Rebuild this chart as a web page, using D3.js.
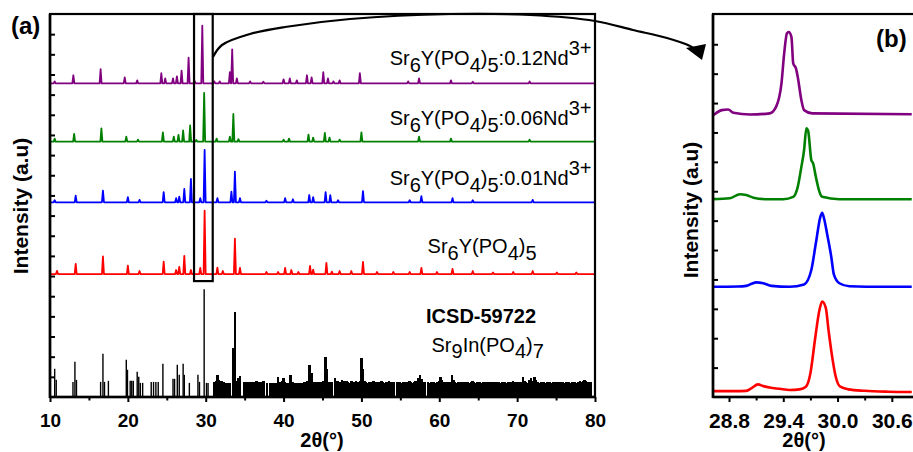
<!DOCTYPE html>
<html>
<head>
<meta charset="utf-8">
<script src="https://cdn.jsdelivr.net/npm/d3@7"></script>
<style>
  body { margin: 0; background: #fff; }
  svg { display: block; font-family: "Liberation Sans", Arial, sans-serif; }
</style>
</head>
<body>
<svg id="chart" width="913" height="452"></svg>
<script>
// ---------- data: panel (a) full-range XRD patterns ----------
// [2θ, peak intensity above the pattern's own baseline]
const peaksHost = [[10.9,16],[13.3,50],[16.8,87],[20.0,42],[21.5,15],[24.6,62],[26.2,20],[26.6,35],[27.25,90],[28.1,20],[29.3,30],[29.86,315],[31.5,32],[32.2,15],[33.75,175],[34.4,30],[37.8,10],[39.3,10],[40.2,30],[41.0,20],[41.9,10],[43.4,40],[43.8,22],[45.5,55],[46.2,12],[47.2,15],[48.7,15],[50.2,60],[52.0,10],[54.1,10],[56.2,10],[57.7,30],[59.7,10],[61.7,25],[64.3,15],[66.9,8],[69.5,10],[72.0,15],[75.1,8],[77.6,8]];
const peaksNd001 = [[10.6,10],[13.3,33],[16.8,58],[20.0,25],[21.5,12],[24.6,50],[26.2,20],[26.6,28],[27.25,66],[28.1,116],[29.3,20],[29.86,260],[31.5,20],[33.3,53],[33.75,152],[34.4,20],[37.8,8],[40.2,20],[41.2,15],[43.3,36],[43.8,25],[45.4,50],[46.0,35],[47.0,10],[50.2,55],[56.2,10],[57.7,30],[61.7,20],[64.3,10],[72.0,12]];
const peaksNd006 = [[10.6,15],[13.1,38],[16.6,66],[19.8,25],[21.3,10],[24.5,46],[25.9,25],[26.5,33],[27.1,55],[28.0,80],[28.8,8],[29.8,242],[31.4,15],[33.1,25],[33.55,137],[34.2,12],[40.0,10],[40.7,15],[43.2,35],[43.8,20],[45.3,43],[45.9,20],[47.2,10],[50.0,46],[57.4,25],[61.5,15],[71.6,10]];
const peaksNd012 = [[10.6,10],[13.0,40],[16.5,70],[19.6,30],[21.2,15],[24.3,50],[24.8,25],[25.8,25],[26.3,35],[26.9,63],[27.8,127],[28.6,10],[29.56,286],[31.1,10],[31.8,10],[33.1,55],[33.4,169],[34.0,25],[35.7,10],[37.4,8],[40.0,20],[40.8,25],[41.7,15],[43.0,40],[43.6,30],[45.1,55],[45.7,25],[46.4,10],[47.2,15],[49.8,50],[56.0,10],[57.4,25],[61.5,15],[64.3,8],[71.6,10]];
// vertical stacking offsets of the four measured patterns (a.u.)
const offsetsA = [610, 966, 1267, 1556];

// reference card ICSD-59722 reflections [2θ, intensity]
const icsdSticks = [[10.6,140],[10.8,85],[12.95,75],[13.2,175],[13.4,85],[16.5,75],[16.8,215],[17.0,75],[17.5,80],[19.8,185],[19.95,135],[20.3,80],[20.5,80],[20.7,80],[21.2,125],[21.4,100],[21.6,70],[21.9,70],[23.0,75],[23.3,75],[23.6,75],[23.9,75],[24.5,165],[25.8,90],[26.0,90],[26.35,160],[26.6,110],[27.1,165],[27.25,110],[27.9,70],[29.0,110],[29.2,75],[29.8,535],[30.1,70],[30.3,70],[31.1,75],[31.3,80],[31.5,110],[31.7,85],[31.9,80],[32.1,80],[32.3,75],[32.6,70],[32.9,70],[33.1,70],[33.6,245],[33.75,420],[34.0,80],[34.2,95],[34.4,105],[35.0,75],[35.3,75],[35.6,75],[35.9,75],[36.2,75],[36.5,80],[36.8,75],[37.1,75],[37.4,80],[37.9,70],[38.3,70],[38.7,70],[39.1,70],[39.3,100],[39.6,75],[39.85,80],[40.0,95],[40.2,75],[40.5,70],[40.9,110],[41.2,75],[41.5,70],[41.8,70],[42.1,70],[42.4,70],[42.7,75],[43.0,80],[43.3,160],[43.5,110],[43.65,120],[43.9,75],[44.2,75],[44.5,75],[44.8,75],[45.1,80],[45.4,200],[45.6,140],[45.9,75],[46.2,75],[46.6,95],[46.9,80],
[47.1,75],[47.3,72],[47.5,85],[47.7,80],[47.9,74],[48.1,80],[48.3,76],[48.5,70],[48.7,80],[48.9,75],[49.1,72],[49.3,80],[49.5,76],[49.7,70],[49.85,80],[50.0,195],[50.15,140],[50.4,80],[50.6,76],[50.8,70],[51.0,75],[51.2,72],[51.4,76],[51.55,80],[51.95,75],[52.15,72],[52.35,76],[52.55,80],[52.75,75],[52.95,70],[53.15,76],[53.35,74],[53.55,80],[53.75,75],[53.95,70],[54.15,75],[54.55,72],[54.75,76],[54.95,75],[55.15,70],[55.35,76],[55.55,72],[55.75,75],[55.95,76],[56.15,80],[56.35,75],[56.55,70],[56.75,76],[56.95,80],[57.15,75],[57.35,95],[57.55,110],[57.75,90],[57.95,75],[58.15,72],[58.55,75],[58.75,70],[58.95,76],[59.15,72],[59.35,75],[59.55,70],[59.75,76],[59.95,80],[60.15,100],[60.35,85],[60.55,75],[60.75,70],[60.95,76],[61.15,72],[61.35,75],[61.65,110],[61.85,85],[62.05,76],[62.25,70],[62.45,75],[62.65,72],[62.85,76],[63.05,70],[63.25,75],[63.45,72],[63.65,76],[63.85,70],[64.05,75],[64.25,80],[64.45,76],[64.65,70],[64.85,75],[65.05,72],[65.25,76],[65.45,70],[65.65,75],[65.85,72],[66.05,76],[66.25,70],[66.45,75],[66.65,72],[66.85,76],[67.05,70],[67.25,75],[67.45,72],[67.65,76],[67.85,70],[68.05,75],[68.25,72],[68.45,76],[68.65,70],[68.85,75],[69.05,72],[69.25,76],[69.45,80],[69.65,75],[69.85,70],[70.05,76],[70.25,72],[70.45,75],[70.75,100],[70.95,80],[71.15,75],[71.35,70],[71.55,85],[71.75,95],[71.95,80],[72.25,100],[72.45,85],[72.65,75],[72.85,70],[73.05,76],[73.25,72],[73.45,75],[73.65,70],[73.85,76],[74.05,72],[74.25,75],[74.45,70],[74.65,76],[74.85,72],[75.05,75],[75.25,70],[75.45,76],[75.65,72],[75.85,75],[76.05,70],[76.25,76],[76.45,72],[76.65,75],[76.85,70],[77.05,76],[77.25,72],[77.45,75],[77.65,70],[77.85,76],[78.05,80],[78.25,75],[78.45,80],[78.65,85],[78.85,80],[79.05,76],[79.25,72],[79.45,75]];

// axis ticks, panel (a)
const xTicksA = [10, 20, 30, 40, 50, 60, 70, 80];
const xMinorA = [15, 25, 35, 45, 55, 65, 75];
const yTicksA = [100,200,300,400,500,600,700,800,900,1000,1100,1200,1300,1400,1500,1600,1700,1800];

// labels of the stacked patterns (_ = subscript digit, ^ = superscript)
const labelsA = ["Sr_6Y(PO_4)_5", "Sr_6Y(PO_4)_5:0.01Nd^3+", "Sr_6Y(PO_4)_5:0.06Nd^3+", "Sr_6Y(PO_4)_5:0.12Nd^3+"];
const icsdLabel = ["ICSD-59722", "Sr_9In(PO_4)_7"];

// ---------- data: panel (b) enlarged main reflection, already offset ----------
const zoomHost = [[28.62,20],[28.85,20],[28.99,21],[29.05,30],[29.12,43],[29.18,37],[29.25,32],[29.36,28],[29.47,24],[29.58,26],[29.65,35],[29.70,81],[29.75,194],[29.80,296],[29.83,325],[29.87,303],[29.90,228],[29.94,138],[29.98,69],[30.03,35],[30.12,26],[30.30,21],[30.56,18],[30.82,17]];
const zoomNd001 = [[28.62,375],[28.90,376],[28.99,378],[29.05,385],[29.10,390],[29.18,387],[29.27,378],[29.47,375],[29.63,383],[29.71,432],[29.76,523],[29.81,613],[29.83,627],[29.85,608],[29.89,546],[29.93,478],[29.96,416],[30.02,387],[30.13,377],[30.50,375],[30.82,375]];
const zoomNd006 = [[28.62,673],[28.81,676],[28.92,690],[28.99,687],[29.07,678],[29.20,673],[29.40,673],[29.51,681],[29.56,715],[29.60,783],[29.63,840],[29.655,914],[29.675,905],[29.71,806],[29.73,795],[29.76,749],[29.80,698],[29.83,681],[30.02,673],[30.82,673]];
const zoomNd012 = [[28.63,959],[28.72,976],[28.79,978],[28.85,967],[29.03,961],[29.25,965],[29.32,987],[29.38,1067],[29.41,1169],[29.44,1237],[29.46,1242],[29.49,1225],[29.51,1135],[29.54,1118],[29.56,1089],[29.60,1010],[29.63,976],[29.72,965],[30.82,962]];

const xTicksB = [28.8, 29.4, 30.0, 30.6];
const xMinorB = [29.1, 29.7, 30.3];
const yTicksB = [100,200,300,400,500,600,700,800,900,1000,1100,1200];

const colors = ["#ff0000", "#0000ff", "#008000", "#800080"];

// ---------- layout ----------
const svg = d3.select("#chart");
const A = { left: 50, right: 595, top: 14, bottom: 397 };
const B = { left: 713, right: 928, top: 14, bottom: 397 };

const xA = d3.scaleLinear().domain([10, 80]).range([A.left, A.right]);
const yA = d3.scaleLinear().domain([0, 1900]).range([A.bottom, A.top]);
const xB = d3.scaleLinear().domain([28.623, 31.0]).range([B.left, B.right]);
const yB = d3.scaleLinear().domain([0, 1303]).range([B.bottom, B.top]);

// formula text with sub/superscripts written as tspans
function chem(textSel, str, subShift, supShift) {
  const parts = str.split(/(_\d|\^\S+$)/).filter(s => s.length);
  let cur = 0;
  parts.forEach(p => {
    let shift = 0, t = p;
    if (p[0] === "_") { shift = subShift; t = p.slice(1); }
    else if (p[0] === "^") { shift = supShift; t = p.slice(1); }
    textSel.append("tspan").attr("dy", shift - cur).text(t);
    cur = shift;
  });
}

// ---------- panel (a) ----------
const gA = svg.append("g");

// stick reference pattern (the crowded high-angle part is drawn heavier so it reads as a solid band)
gA.append("g").selectAll("line").data(icsdSticks).join("line")
  .attr("x1", d => xA(d[0])).attr("x2", d => xA(d[0]))
  .attr("y1", yA(0)).attr("y2", d => yA(d[1]))
  .attr("stroke", "#000").attr("stroke-width", d => d[0] < 30.5 ? 1.4 : 2.5)
  .attr("shape-rendering", d => d[0] < 30.5 ? "auto" : "crispEdges");

// measured patterns drawn as narrow peak profiles on a flat baseline
const halfWidth = 0.13;
function profile(peaks) {
  const pts = [[10, 0]];
  peaks.slice().sort((a, b) => a[0] - b[0]).forEach(p => {
    pts.push([p[0] - halfWidth, 0], [p[0], p[1]], [p[0] + halfWidth, 0]);
  });
  pts.push([80, 0]);
  return pts;
}
const patternsA = [peaksHost, peaksNd001, peaksNd006, peaksNd012];
patternsA.forEach((peaks, i) => {
  const line = d3.line().x(d => xA(d[0])).y(d => yA(d[1] + offsetsA[i]));
  gA.append("path").attr("d", line(profile(peaks)))
    .attr("fill", "none").attr("stroke", colors[i])
    .attr("stroke-width", 1.8).attr("stroke-linejoin", "round");
});

// frame
gA.append("rect").attr("x", A.left).attr("y", A.top)
  .attr("width", A.right - A.left).attr("height", A.bottom - A.top)
  .attr("fill", "none").attr("stroke", "#000").attr("stroke-width", 2.2);
gA.append("line").attr("x1", A.left).attr("x2", A.left).attr("y1", A.top).attr("y2", A.bottom + 1)
  .attr("stroke", "#000").attr("stroke-width", 2.6);
gA.append("line").attr("x1", A.left).attr("x2", A.right).attr("y1", A.bottom).attr("y2", A.bottom)
  .attr("stroke", "#000").attr("stroke-width", 2.6);

// x axis
const axA = gA.append("g").attr("transform", `translate(0,${A.bottom})`)
  .call(d3.axisBottom(xA).tickValues(xTicksA).tickSize(5).tickFormat(d3.format("d")));
axA.select(".domain").remove();
axA.selectAll("line").attr("stroke-width", 2);
axA.selectAll("text").attr("dy", null).attr("y", 30)
  .attr("font-size", 19).attr("font-weight", "bold").attr("fill", "#000")
  .attr("font-family", "'Liberation Sans', Arial, sans-serif");
const axAm = gA.append("g").attr("transform", `translate(0,${A.bottom})`)
  .call(d3.axisBottom(xA).tickValues(xMinorA).tickSize(3.5).tickFormat(""));
axAm.select(".domain").remove();
axAm.selectAll("line").attr("stroke-width", 2);

// y ticks (inward, unlabelled)
const ayA = gA.append("g").attr("transform", `translate(${A.left},0)`)
  .call(d3.axisLeft(yA).tickValues(yTicksA).tickSize(-5).tickFormat(""));
ayA.select(".domain").remove();
ayA.selectAll("line").attr("stroke-width", 2);

// labels
const labelYA = [714, 1052, 1349, 1647];
labelsA.forEach((s, i) => {
  const t = gA.append("text").attr("font-size", 20).attr("fill", "#000");
  if (i === 0) t.attr("x", xA(58.5)).attr("text-anchor", "start");
  else t.attr("x", xA(79.55)).attr("text-anchor", "end");
  t.attr("y", yA(labelYA[i]));
  chem(t, s, 7, -10);
});
gA.append("text").attr("x", xA(58.3)).attr("y", yA(366))
  .attr("font-size", 20).attr("font-weight", "bold").attr("fill", "#000").text(icsdLabel[0]);
const tI = gA.append("text").attr("x", xA(59.0)).attr("y", yA(225))
  .attr("font-size", 20).attr("fill", "#000");
chem(tI, icsdLabel[1], 6, -10);

gA.append("text").attr("x", 322).attr("y", 447).attr("text-anchor", "middle")
  .attr("font-size", 20).attr("font-weight", "bold").text("2θ(°)");
gA.append("text").attr("transform", "translate(28,206) rotate(-90)").attr("text-anchor", "middle")
  .attr("font-size", 21).attr("font-weight", "bold").text("Intensity (a.u)");
gA.append("text").attr("x", 11).attr("y", 34)
  .attr("font-size", 24).attr("font-weight", "bold").text("(a)");

// selection box around the strongest reflection
gA.append("rect").attr("x", xA(28.5)).attr("y", yA(1900))
  .attr("width", xA(30.9) - xA(28.5)).attr("height", yA(575) - yA(1900))
  .attr("fill", "none").attr("stroke", "#000").attr("stroke-width", 2.2);

// ---------- panel (b) ----------
const gB = svg.append("g");
svg.append("defs").append("clipPath").attr("id", "clipB")
  .append("rect").attr("x", B.left).attr("y", B.top)
  .attr("width", B.right - B.left).attr("height", B.bottom - B.top);

const lineB = d3.line().x(d => xB(d[0])).y(d => yB(d[1])).curve(d3.curveMonotoneX);
[zoomHost, zoomNd001, zoomNd006, zoomNd012].forEach((pts, i) => {
  gB.append("path").attr("d", lineB(pts)).attr("clip-path", "url(#clipB)")
    .attr("fill", "none").attr("stroke", colors[i])
    .attr("stroke-width", 2.6).attr("stroke-linejoin", "round");
});

gB.append("rect").attr("x", B.left).attr("y", B.top)
  .attr("width", B.right - B.left).attr("height", B.bottom - B.top)
  .attr("fill", "none").attr("stroke", "#000").attr("stroke-width", 2.2);
gB.append("line").attr("x1", B.left).attr("x2", B.left).attr("y1", B.top).attr("y2", B.bottom + 1)
  .attr("stroke", "#000").attr("stroke-width", 2.6);
gB.append("line").attr("x1", B.left).attr("x2", B.right).attr("y1", B.bottom).attr("y2", B.bottom)
  .attr("stroke", "#000").attr("stroke-width", 2.6);

const axB = gB.append("g").attr("transform", `translate(0,${B.bottom})`)
  .call(d3.axisBottom(xB).tickValues(xTicksB).tickSize(5).tickFormat(d3.format(".1f")));
axB.select(".domain").remove();
axB.selectAll("line").attr("stroke-width", 2);
axB.selectAll("text").attr("dy", null).attr("y", 31)
  .attr("font-size", 21).attr("font-weight", "bold").attr("fill", "#000")
  .attr("font-family", "'Liberation Sans', Arial, sans-serif");
const axBm = gB.append("g").attr("transform", `translate(0,${B.bottom})`)
  .call(d3.axisBottom(xB).tickValues(xMinorB).tickSize(3.5).tickFormat(""));
axBm.select(".domain").remove();
axBm.selectAll("line").attr("stroke-width", 2);

const ayB = gB.append("g").attr("transform", `translate(${B.left},0)`)
  .call(d3.axisLeft(yB).tickValues(yTicksB).tickSize(-5).tickFormat(""));
ayB.select(".domain").remove();
ayB.selectAll("line").attr("stroke-width", 2);

gB.append("text").attr("x", 804).attr("y", 447).attr("text-anchor", "middle")
  .attr("font-size", 20).attr("font-weight", "bold").text("2θ(°)");
gB.append("text").attr("transform", "translate(698,210) rotate(-90)").attr("text-anchor", "middle")
  .attr("font-size", 21).attr("font-weight", "bold").text("Intensity (a.u)");
gB.append("text").attr("x", 876).attr("y", 47)
  .attr("font-size", 24).attr("font-weight", "bold").text("(b)");

// ---------- connector arrow from the box to panel (b) ----------
const arrowWay = [[213,57],[222,45],[250,34],[285,27],[350,19],[450,14],[530,15],[595,21],[633,30],[667,38],[690,46],[696,50]];
svg.append("path")
  .attr("d", d3.line().curve(d3.curveCatmullRom)(arrowWay))
  .attr("fill", "none").attr("stroke", "#000").attr("stroke-width", 2.2);
svg.append("path")
  .attr("d", "M686,48 L706,44 L702,60 Z")
  .attr("fill", "#000");
</script>
</body>
</html>
